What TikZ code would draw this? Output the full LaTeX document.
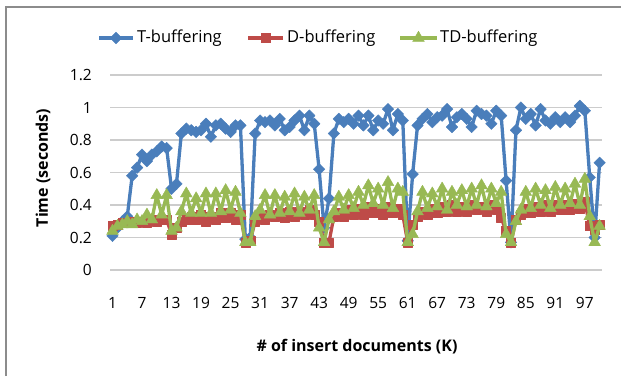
\documentclass[tikz,border=0pt]{standalone}
\usepackage{fontspec}
\setmainfont{Open Sans}
\usetikzlibrary{plotmarks}

\definecolor{tblue}{RGB}{74,126,187}
\definecolor{dred}{RGB}{190,75,72}
\definecolor{tdgreen}{RGB}{152,185,84}
\definecolor{gridgray}{RGB}{204,204,204}
\definecolor{framegray}{RGB}{140,140,140}

\begin{document}
\begin{tikzpicture}[x=1pt,y=1pt,
  gridline/.style={draw=gridgray,line width=1.5pt},
  ticklabel/.style={font=\fontsize{15.5}{18}\selectfont,text=black,inner sep=0pt},
  axtitle/.style={font=\bfseries\fontsize{16}{18}\selectfont,text=black,inner sep=0pt},
  legtext/.style={font=\fontsize{16.5}{19}\selectfont,text=black,inner sep=0pt,anchor=west},
  tline/.style={draw=tblue,line width=3.3pt,line join=round},
  dline/.style={draw=dred,line width=3.3pt,line join=round},
  tdline/.style={draw=tdgreen,line width=3.3pt,line join=round},
  tmark/.style={mark=square*,mark size=4.1pt,mark options={fill=tblue,draw=tblue,rotate=45,line width=0.4pt,solid}},
  dmark/.style={mark=square*,mark size=4.5pt,mark options={fill=dred,draw=dred,line width=0.4pt,solid}},
  tdmark/.style={mark=triangle*,mark size=6.8pt,mark options={fill=tdgreen,draw=tdgreen,line width=0.4pt,solid}}
]
\useasboundingbox (0,0) rectangle (621,376);

% chart frame (top and left edges)
\draw[framegray,line width=2pt] (6,0) -- (6,369) -- (621,369);

% horizontal gridlines and value labels
\foreach \v/\lab [count=\k] in {0/0,0.2/0.2,0.4/0.4,0.6/0.6,0.8/0.8,1/1,1.2/1.2}{
  \coordinate (gl\k) at (110,{106+162.5*\v});
  \coordinate (gr\k) at (602,{106+162.5*\v});
  \draw[gridline] (gl\k) -- (gr\k);
  \node[ticklabel,anchor=east] (ylab\k) at (92,{106+162.5*\v}) {\lab};
}

% category labels
\foreach \c in {1,7,...,97}{
  \node[ticklabel] (xlab\c) at ({107.58+4.92*\c},73) {\c};
}

% axis titles
\node[axtitle,rotate=90] (ytitle) at (43,208) {Time (seconds)};
\node[axtitle] (xtitle) at (357,29) {\# of insert documents (K)};

% data series
\begin{scope}[xshift=107.58pt,yshift=106pt,x=4.92pt,y=162.5pt]
\draw[tline,tmark] plot coordinates {
(1,0.21) (2,0.26) (3,0.30) (4,0.33) (5,0.58) (6,0.63) (7,0.71) (8,0.67) (9,0.71) (10,0.73)
(11,0.76) (12,0.75) (13,0.50) (14,0.53) (15,0.84) (16,0.87) (17,0.86) (18,0.85) (19,0.86) (20,0.90)
(21,0.82) (22,0.89) (23,0.90) (24,0.87) (25,0.85) (26,0.89) (27,0.89) (28,0.19) (29,0.20) (30,0.84)
(31,0.92) (32,0.91) (33,0.92) (34,0.89) (35,0.93) (36,0.86) (37,0.88) (38,0.92) (39,0.95) (40,0.86)
(41,0.95) (42,0.90) (43,0.62) (44,0.26) (45,0.44) (46,0.84) (47,0.93) (48,0.91) (49,0.93) (50,0.90)
(51,0.95) (52,0.89) (53,0.95) (54,0.86) (55,0.92) (56,0.90) (57,0.99) (58,0.86) (59,0.96) (60,0.92)
(61,0.18) (62,0.59) (63,0.89) (64,0.93) (65,0.96) (66,0.91) (67,0.94) (68,0.95) (69,0.99) (70,0.88)
(71,0.94) (72,0.96) (73,0.93) (74,0.88) (75,0.98) (76,0.96) (77,0.95) (78,0.90) (79,0.98) (80,0.95)
(81,0.55) (82,0.17) (83,0.86) (84,1.00) (85,0.93) (86,0.96) (87,0.89) (88,0.99) (89,0.92) (90,0.90)
(91,0.94) (92,0.91) (93,0.94) (94,0.91) (95,0.95) (96,1.01) (97,0.98) (98,0.57) (99,0.20) (100,0.66)};
\draw[dline,dmark] plot coordinates {
(1,0.27) (2,0.28) (3,0.29) (4,0.29) (5,0.30) (6,0.29) (7,0.30) (8,0.29) (9,0.31) (10,0.30)
(11,0.31) (12,0.31) (13,0.22) (14,0.26) (15,0.30) (16,0.31) (17,0.33) (18,0.31) (19,0.34) (20,0.30)
(21,0.33) (22,0.31) (23,0.35) (24,0.32) (25,0.35) (26,0.31) (27,0.34) (28,0.17) (29,0.18) (30,0.30)
(31,0.33) (32,0.31) (33,0.34) (34,0.33) (35,0.35) (36,0.32) (37,0.36) (38,0.33) (39,0.36) (40,0.34)
(41,0.37) (42,0.34) (43,0.30) (44,0.17) (45,0.17) (46,0.33) (47,0.35) (48,0.33) (49,0.37) (50,0.34)
(51,0.38) (52,0.34) (53,0.39) (54,0.35) (55,0.38) (56,0.34) (57,0.39) (58,0.35) (59,0.38) (60,0.34)
(61,0.17) (62,0.28) (63,0.33) (64,0.36) (65,0.34) (66,0.38) (67,0.35) (68,0.39) (69,0.36) (70,0.40)
(71,0.36) (72,0.39) (73,0.36) (74,0.40) (75,0.37) (76,0.39) (77,0.36) (78,0.40) (79,0.37) (80,0.32)
(81,0.24) (82,0.17) (83,0.31) (84,0.34) (85,0.38) (86,0.35) (87,0.39) (88,0.36) (89,0.40) (90,0.36)
(91,0.40) (92,0.37) (93,0.40) (94,0.37) (95,0.41) (96,0.38) (97,0.42) (98,0.27) (99,0.25) (100,0.28)};
\draw[tdline,tdmark] plot coordinates {
(1,0.24) (2,0.27) (3,0.28) (4,0.30) (5,0.28) (6,0.31) (7,0.30) (8,0.34) (9,0.31) (10,0.46)
(11,0.34) (12,0.46) (13,0.24) (14,0.26) (15,0.36) (16,0.47) (17,0.35) (18,0.44) (19,0.35) (20,0.47)
(21,0.35) (22,0.47) (23,0.36) (24,0.49) (25,0.37) (26,0.48) (27,0.35) (28,0.17) (29,0.17) (30,0.33)
(31,0.37) (32,0.46) (33,0.34) (34,0.46) (35,0.35) (36,0.45) (37,0.36) (38,0.47) (39,0.35) (40,0.45)
(41,0.37) (42,0.46) (43,0.26) (44,0.17) (45,0.31) (46,0.36) (47,0.45) (48,0.37) (49,0.46) (50,0.38)
(51,0.48) (52,0.40) (53,0.52) (54,0.41) (55,0.50) (56,0.40) (57,0.54) (58,0.38) (59,0.50) (60,0.48)
(61,0.17) (62,0.22) (63,0.36) (64,0.48) (65,0.38) (66,0.47) (67,0.39) (68,0.50) (69,0.37) (70,0.48)
(71,0.40) (72,0.49) (73,0.39) (74,0.50) (75,0.40) (76,0.52) (77,0.39) (78,0.50) (79,0.41) (80,0.48)
(81,0.22) (82,0.17) (83,0.30) (84,0.37) (85,0.48) (86,0.38) (87,0.50) (88,0.40) (89,0.49) (90,0.38)
(91,0.51) (92,0.40) (93,0.50) (94,0.41) (95,0.53) (96,0.40) (97,0.56) (98,0.33) (99,0.17) (100,0.27)};
\end{scope}

% legend
\coordinate (ta) at (99,338);  \coordinate (tb) at (133,338);
\coordinate (da) at (248,338); \coordinate (db) at (283,338);
\coordinate (tda) at (400,338); \coordinate (tdb) at (437,338);
\draw[tline] (ta) -- (tb);
\path[tmark] plot coordinates {(116,338)};
\node[legtext] (tleg) at (137,338) {T-buffering};
\draw[dline] (da) -- (db);
\path[dmark] plot coordinates {(265.5,338)};
\node[legtext] (dleg) at (287,338) {D-buffering};
\draw[tdline] (tda) -- (tdb);
\path[tdmark] plot coordinates {(418.5,338)};
\node[legtext] (tdleg) at (440,338) {TD-buffering};
\end{tikzpicture}
\end{document}
